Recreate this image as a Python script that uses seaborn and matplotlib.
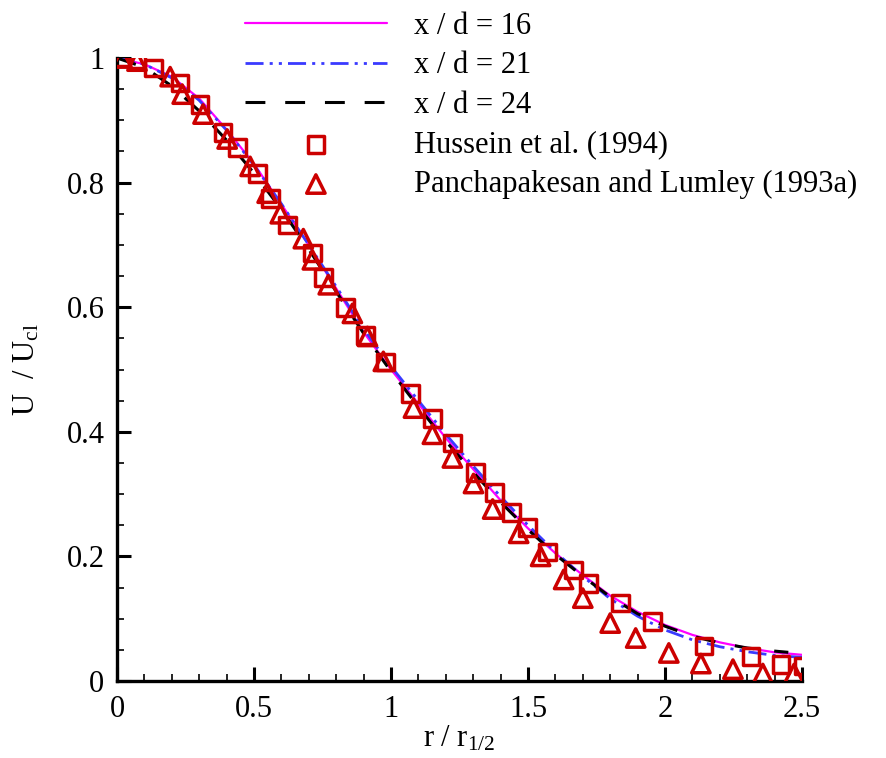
import numpy as np
import pandas as pd
import matplotlib
matplotlib.use("Agg")
import matplotlib.pyplot as plt
import seaborn as sns
from matplotlib.ticker import MultipleLocator

# ---- data ----
r_line = [0.0, 0.1, 0.2, 0.3, 0.4, 0.5, 0.6, 0.7, 0.8, 0.9, 1.0, 1.1, 1.2,
          1.3, 1.4, 1.5, 1.6, 1.7, 1.8, 1.9, 2.0, 2.1, 2.2, 2.3, 2.4, 2.5]
u_xd16 = [1.0, 0.99, 0.97, 0.935, 0.885, 0.83, 0.765, 0.70, 0.63, 0.56, 0.50,
          0.445, 0.39, 0.34, 0.29, 0.245, 0.205, 0.17, 0.137, 0.111, 0.09,
          0.074, 0.062, 0.053, 0.046, 0.042]
u_xd21 = [1.0, 0.99, 0.968, 0.932, 0.884, 0.828, 0.766, 0.70, 0.633, 0.565,
          0.505, 0.45, 0.396, 0.345, 0.296, 0.25, 0.207, 0.168, 0.132, 0.104,
          0.082, 0.066, 0.055, 0.047, 0.041, 0.038]
r_xd24 = [0.0, 0.1, 0.2, 0.3, 0.4, 0.5, 0.6, 0.7, 0.8, 0.9, 1.0, 1.1, 1.2,
          1.3, 1.4, 1.5, 1.6, 1.7, 1.8, 1.9, 2.0, 2.1, 2.2, 2.3, 2.4, 2.45]
u_xd24 = [1.0, 0.985, 0.955, 0.915, 0.868, 0.815, 0.757, 0.693, 0.625, 0.558,
          0.497, 0.44, 0.385, 0.335, 0.287, 0.243, 0.203, 0.168, 0.135, 0.108,
          0.088, 0.072, 0.061, 0.053, 0.048, 0.046]

r_hussein = [0.018, 0.073, 0.132, 0.23, 0.303, 0.387, 0.439, 0.512, 0.559,
             0.621, 0.713, 0.753, 0.833, 0.906, 0.98, 1.071, 1.151, 1.224,
             1.308, 1.378, 1.44, 1.499, 1.572, 1.667, 1.721, 1.838, 1.955,
             2.142, 2.314, 2.423, 2.504]
u_hussein = [1.0, 0.997, 0.984, 0.96, 0.925, 0.88, 0.856, 0.815, 0.775,
             0.732, 0.687, 0.648, 0.60, 0.555, 0.512, 0.462, 0.421, 0.382,
             0.335, 0.302, 0.271, 0.246, 0.207, 0.178, 0.157, 0.125, 0.095,
             0.056, 0.039, 0.026, 0.024]

r_panch = [0.018, 0.073, 0.194, 0.238, 0.314, 0.402, 0.486, 0.548, 0.596,
           0.68, 0.713, 0.771, 0.859, 0.914, 0.972, 1.082, 1.151, 1.224,
           1.301, 1.371, 1.466, 1.546, 1.63, 1.70, 1.80, 1.893, 2.014, 2.131,
           2.248, 2.357, 2.471]
u_panch = [1.0, 0.995, 0.97, 0.942, 0.91, 0.87, 0.826, 0.783, 0.75, 0.71,
           0.676, 0.636, 0.59, 0.553, 0.513, 0.438, 0.396, 0.358, 0.317,
           0.276, 0.237, 0.2, 0.163, 0.133, 0.093, 0.069, 0.045, 0.028,
           0.019, 0.012, 0.012]

labels = ["x / d = 16", "x / d = 21", "x / d = 24",
          "Hussein et al. (1994)", "Panchapakesan and Lumley (1993a)"]

# ---- style ----
sns.set_theme(style="ticks")
plt.rcParams["font.family"] = ["Liberation Serif", "DejaVu Serif"]
plt.rcParams["mathtext.fontset"] = "custom"
plt.rcParams["mathtext.rm"] = "Liberation Serif"
plt.rcParams["mathtext.it"] = "Liberation Serif:italic"
plt.rcParams["text.color"] = "black"
plt.rcParams["axes.labelcolor"] = "black"
plt.rcParams["xtick.color"] = "black"
plt.rcParams["ytick.color"] = "black"

RED = "#CC0000"
FS = 22

fig = plt.figure(figsize=(8.87, 7.58), dpi=100)
ax = fig.add_axes([117 / 887, 77 / 758, 685 / 887, 623 / 758])

sns.lineplot(x=r_line, y=u_xd16, ax=ax, color="#FF00FF", lw=1.6,
             sort=False, estimator=None, label=labels[0])
sns.lineplot(x=r_line, y=u_xd21, ax=ax, color="#3A3AFF", lw=2.0,
             linestyle=(0, (6.5, 2.2, 1.1, 2.2, 1.1, 2.2)),
             sort=False, estimator=None, label=labels[1])
sns.lineplot(x=r_xd24, y=u_xd24, ax=ax, color="black", lw=2.2,
             linestyle=(0, (6.5, 6.5)),
             sort=False, estimator=None, label=labels[2])
sns.scatterplot(x=r_hussein, y=u_hussein, ax=ax, marker="s", s=145,
                facecolors="none", edgecolor=RED, linewidth=2.5,
                label=labels[3], zorder=5)
sns.scatterplot(x=r_panch, y=u_panch, ax=ax, marker="^", s=175,
                facecolors="none", edgecolor=RED, linewidth=2.5,
                label=labels[4], zorder=5)

ax.set_xlim(0, 2.5)
ax.set_ylim(0, 1)
ax.xaxis.set_major_locator(MultipleLocator(0.5))
ax.xaxis.set_minor_locator(MultipleLocator(0.1))
ax.yaxis.set_major_locator(MultipleLocator(0.2))
ax.yaxis.set_minor_locator(MultipleLocator(0.05))
ax.xaxis.set_major_formatter(plt.FuncFormatter(lambda v, p: f"{v:g}"))
ax.yaxis.set_major_formatter(plt.FuncFormatter(lambda v, p: f"{v:g}"))

for s in ["top", "right"]:
    ax.spines[s].set_visible(False)
for s in ["left", "bottom"]:
    ax.spines[s].set_linewidth(2.4)
    ax.spines[s].set_color("black")

ax.tick_params(axis="x", which="major", pad=10)
ax.tick_params(axis="y", which="major", pad=9)
ax.tick_params(which="major", direction="in", length=10, width=2.2,
               labelsize=FS, colors="black")
ax.tick_params(which="minor", direction="in", length=5, width=1.2,
               colors="black")

ax.set_xlabel(r"r / r$_{\rm 1/2}$", fontsize=FS, labelpad=0, color="black")
ax.set_ylabel(r"U  / U$_{\rm cl}$", fontsize=FS, labelpad=18, color="black")

leg = ax.legend(loc="upper left", bbox_to_anchor=(245 / 887, 1 - 12 / 758),
                bbox_transform=fig.transFigure, frameon=False, fontsize=FS,
                handlelength=4.64, handletextpad=0.9, labelspacing=0.34,
                borderpad=0, borderaxespad=0, scatterpoints=1)
for t in leg.get_texts():
    t.set_color("black")

fig.savefig("out.png", dpi=100)
